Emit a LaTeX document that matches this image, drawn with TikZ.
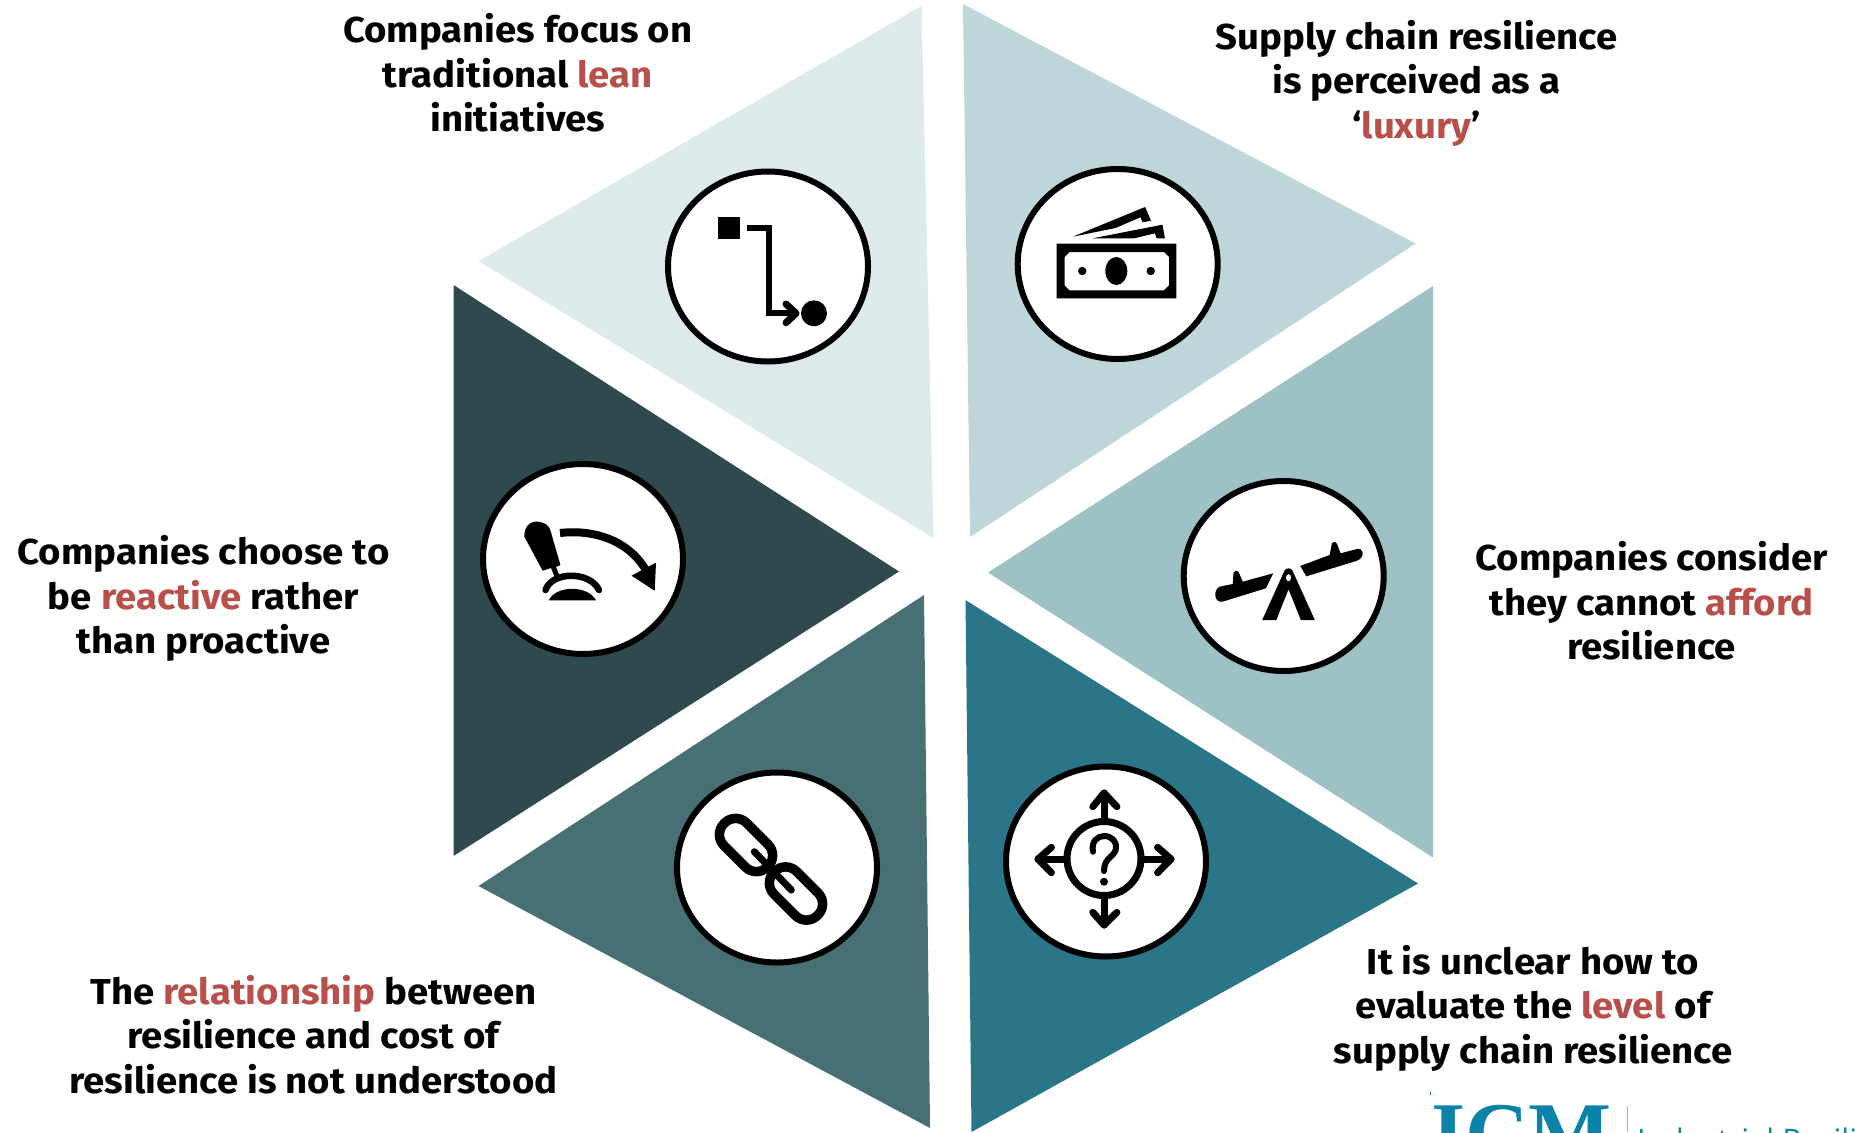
\documentclass[tikz,border=0pt]{standalone}
\usepackage{fontspec}
\setmainfont{Fira Sans}[FakeStretch=1.065]
\newfontfamily\logoserif{Liberation Serif}
\newfontfamily\logosans{Open Sans}
\usetikzlibrary{calc}
\usetikzlibrary{arrows.meta}
\tikzset{>=latex}
\definecolor{wedgeA}{HTML}{DCEAEB}
\definecolor{wedgeB}{HTML}{BED5DA}
\definecolor{wedgeC}{HTML}{9DC1C5}
\definecolor{wedgeD}{HTML}{2B7588}
\definecolor{wedgeE}{HTML}{467074}
\definecolor{wedgeF}{HTML}{2F4A4E}
\definecolor{myred}{HTML}{B84F4A}
\definecolor{logoteal}{HTML}{0A83A8}
\newcommand{\hotword}[1]{\textcolor{myred}{#1}}
\tikzset{
  badge/.style={draw=black, fill=white, line width=6pt},
  iconline/.style={draw=black, line width=7pt, line cap=round, line join=round},
  caption/.style={align=center, text=black, font=\bfseries\fontsize{36}{44.5}\selectfont},
}

\begin{document}
\begin{tikzpicture}[x=1pt, y=-1pt]
    \useasboundingbox (0,0) rectangle (1862,1132);
    \clip (0,0) rectangle (1862,1132);

    % Centres of the badges
    \coordinate (lean) at (768,266.5);
    \coordinate (luxury) at (1117.7,264);
    \coordinate (afford) at (1283.7,576);
    \coordinate (level) at (1106,861.5);
    \coordinate (relation) at (777,867.5);
    \coordinate (reactive) at (583,559);

    % Wedges
    \fill[wedgeA] (921.5,6) -- (478.5,261) -- (933.5,538) -- cycle;
    \fill[wedgeB] (963,4) -- (1415.5,243.5) -- (970,537) -- cycle;
    \fill[wedgeC] (1433,286) -- (988,572.5) -- (1433,857.5) -- cycle;
    \fill[wedgeD] (965.5,600) -- (1418,883.5) -- (971.5,1132) -- cycle;
    \fill[wedgeE] (924,595) -- (478.5,886) -- (930,1128) -- cycle;
    \fill[wedgeF] (453.5,285) -- (899,571.5) -- (453.5,856) -- cycle;

    % Badges
    \foreach \c in {lean,luxury,afford,level,relation,reactive}
        \draw[badge] (\c) ellipse (100 and 95);

    % Flow icon
    \fill (717.5,217.3) rectangle (740.4,239.3);
    \draw[black, line width=6pt, line join=miter] (746.7,228.3) -- (768.9,228.3) -- (768.9,313.3) -- (794,313.3);
    \draw[iconline] (786,304) -- (796,313.3) -- (786,322.7);
    \fill (814,313.3) ellipse (13 and 13);

    % Banknotes icon
    \fill[even odd rule] (1056.6,243.7) rectangle (1176.4,298.3)
        (1069.5,252) -- (1164,252) -- (1169,257) -- (1169,285.3) -- (1164,290.3) -- (1069.5,290.3) -- (1064.5,285.3) -- (1064.5,257) -- cycle;
    \fill (1116.3,271) ellipse (11 and 14);
    \fill (1082.3,271) circle (4.2);
    \fill (1150.7,271) circle (4.2);
    \fill (1072.8,236.7) -- (1145.1,207) -- (1151,220.7) -- (1142.8,222.3) -- (1140.4,217.3) -- (1115.5,228) -- cycle;
    \fill (1092.6,238.3) -- (1162.5,224.7) -- (1164.9,238.3) -- (1156.6,238.3) -- (1155,233.3) -- (1134.1,238.3) -- cycle;

    % Seesaw icon
    \fill (1288.5,568.3) .. controls (1292,568.3) and (1293.5,572) .. (1294,574) -- (1314.8,620) -- (1300.8,620) -- (1288.5,589.3) -- (1276.3,620) -- (1262.2,620) -- (1283,574) .. controls (1283.5,572) and (1285,568.3) .. (1288.5,568.3) -- cycle;
    \fill[white] (1288.5,577.7) ellipse (2.5 and 3.5);
    \fill (1300.2,566) -- (1329.6,555) -- (1332,543) .. controls (1334,541) and (1336,541.5) .. (1337,544) -- (1340.6,553.3) -- (1357,549) .. controls (1363,547) and (1366,557) .. (1357,560.7) -- (1306.3,576.3) -- cycle;
    \fill (1273.2,573.3) -- (1265.9,588.3) -- (1222.4,601.7) .. controls (1214,603) and (1213,590) .. (1219.5,586.7) -- (1232.8,584) -- (1233.5,573) .. controls (1235,570) and (1238,570) .. (1239,573) -- (1242.8,581.7) -- cycle;

    % Chain icon
    \begin{scope}[shift={(746,845)}, rotate=-45]
        \draw[black, line width=9.5pt] (-30.7,-16) [rounded corners=15.5pt] rectangle (30.7,16);
    \end{scope}
    \begin{scope}[shift={(796,893.5)}, rotate=-45]
        \draw[black, line width=9.5pt] (-30.7,-16) [rounded corners=15.5pt] rectangle (30.7,16);
    \end{scope}
    \draw[iconline] (754.3,851.7) -- (791.3,890);

    % Direction icon
    \draw[black, line width=7pt] (1104,858.5) ellipse (37 and 37);
    \draw[iconline] (1104,819) -- (1104,793);
    \draw[iconline] (1092.8,806.7) -- (1104,793) -- (1116.9,806.7);
    \draw[iconline] (1104,898) -- (1104,925);
    \draw[iconline] (1092.8,912.3) -- (1104,925) -- (1116.9,912.3);
    \draw[iconline] (1064,859) -- (1038,859);
    \draw[iconline] (1051.4,847.3) -- (1038,859) -- (1051.4,872.7);
    \draw[iconline] (1144,859) -- (1171,859);
    \draw[iconline] (1157.6,847.3) -- (1171,859) -- (1157.6,872.7);
    \draw[iconline, line width=6pt] (1093,851.7) .. controls (1091,842) and (1097,836) .. (1104,836) .. controls (1112,836) and (1117,842) .. (1116,848.3) .. controls (1115,857) and (1104,857) .. (1104,871);
    \fill (1104,881.7) circle (4);

    % Lever icon
    \fill (542.7,570.7) -- (524.3,536.7) .. controls (524,524) and (533,520) .. (540,522) .. controls (546,523) and (549,526) .. (550.6,531) -- (560.4,565) -- (556,567) -- (560,577) -- (555,578) -- (551,568) -- cycle;
    \draw[black, line width=6.5pt, line cap=round] (545.5,590) .. controls (552,571) and (590,571) .. (599,590);
    \fill (548.8,600.3) .. controls (556,585) and (588,585) .. (596,600.3) -- cycle;
    \draw[black, line width=8pt] (560,533) .. controls (595,529) and (630,541) .. (647,572);
    \fill (654.7,590.7) -- (656,562.7) -- (631.5,575.7) -- cycle;

    % Captions
    \node[caption] (leantext) at (517.7,73) {Companies focus on\\traditional \hotword{lean}\\initiatives};
    \node[caption] (luxurytext) at (1416.5,83) {Supply chain resilience\\is perceived as a\\‘\hotword{luxury}’};
    \node[caption] (affordtext) at (1651.5,601) {Companies consider\\they cannot \hotword{afford}\\resilience};
    \node[caption] (leveltext) at (1533,1008) {It is unclear how to\\evaluate the \hotword{level} of\\supply chain resilience};
    \node[caption] (relationtext) at (313.5,1034.5) {The \hotword{relationship} between\\resilience and cost of\\resilience is not understood};
    \node[caption] (reactivetext) at (203.5,598.5) {Companies choose to\\be \hotword{reactive} rather\\than proactive};

    % Logo cut off by the page edge
    \node[anchor=base west, inner sep=0pt, text=logoteal, font=\logoserif\bfseries\fontsize{88}{88}\selectfont] (logo) at (1431,1163) {ICM};
    \draw[logoteal, line width=1pt] (1430.5,1092) -- (1430.5,1095);
    \draw[logoteal!50, line width=1pt] (1627,1106) -- (1627,1132);
    \node[anchor=base west, inner sep=0pt, text=logoteal, font=\logosans\fontsize{31}{31}\selectfont] (logoname) at (1637,1151) {Industrial Resilience};
\end{tikzpicture}
\end{document}
